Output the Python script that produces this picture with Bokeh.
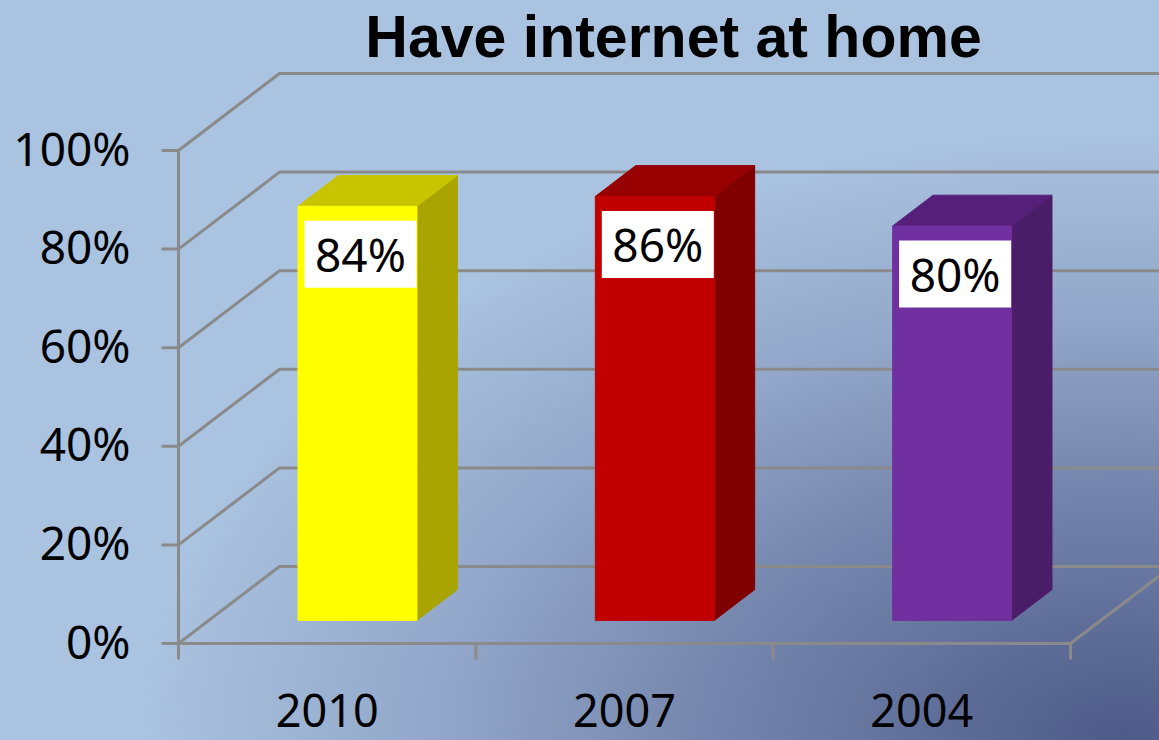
from bokeh.plotting import figure
from bokeh.models import Range1d, Label
from bokeh.core.properties import value
from bokeh.embed import file_html
from bokeh.resources import INLINE

# ---------------- data ----------------
categories = ["2010", "2007", "2004"]
values = [84, 86, 80]
value_labels = ["84%", "86%", "80%"]
y_ticks = [0, 20, 40, 60, 80, 100]
y_tick_labels = ["0%", "20%", "40%", "60%", "80%", "100%"]
front_colors = ["#ffff00", "#c00000", "#7030a0"]
side_colors = ["#a9a400", "#800000", "#4a1d68"]
top_colors = ["#c8c400", "#960000", "#56207a"]
title_text = "Have internet at home"

# ---------------- layout / styling constants ----------------
W, H = 1159, 740
X0, Y0 = 178, 643          # screen position of origin (front axis corner)
PX = 297.33                # pixels per category
PY = 4.93                  # pixels per percent
DX = 101 / PX              # full depth offset (x, data units)
DY = 77 / PY               # full depth offset (y, data units)
F0, F1 = 0.30, 0.70        # bar depth (front / back fraction)
HALF = 0.20                # half bar width (category units)
GRID = "#8a8a8a"
N = len(categories)

x_start = -X0 / PX
x_end = (W - X0) / PX
y_top = Y0 / PY
y_bot = (Y0 - H) / PY

p = figure(width=W, height=H, x_range=Range1d(x_start, x_end), y_range=Range1d(y_bot, y_top),
           x_axis_type=None, y_axis_type=None, min_border=0, toolbar_location=None,
           output_backend="svg")
p.outline_line_color = None
p.background_fill_alpha = 0
p.border_fill_alpha = 0
p.styles = {"background": "radial-gradient(ellipse 85% 82% at 97% 100%, #4e5a88 0%, #61719b 22%, "
                          "#7889b0 45%, #92a7c9 70%, #aac3e0 100%)"}

# ---------------- grid / walls ----------------
gx, gy = [], []
for t in y_ticks:
    gx.append([0, DX, N + DX])
    gy.append([t, t + DY, t + DY])
# floor front edge and right edge
gx.append([0, N]); gy.append([0, 0])
gx.append([N, N + DX]); gy.append([0, DY])
# left axis line
gx.append([0, 0]); gy.append([0, y_ticks[-1]])
# left ticks
for t in y_ticks:
    gx.append([-17 / PX, 0]); gy.append([t, t])
# bottom ticks (category boundaries)
for k in range(N + 1):
    gx.append([k, k]); gy.append([0, -16 / PY])
p.multi_line(gx, gy, line_color=GRID, line_width=3)

# ---------------- 3D bars ----------------
centers = [i + 0.5 for i in range(N)]
side_xs, side_ys, top_xs, top_ys = [], [], [], []
fl, fr, fb, ft = [], [], [], []
for c, v in zip(centers, values):
    l0, r0 = c - HALF + F0 * DX, c + HALF + F0 * DX
    l1, r1 = c - HALF + F1 * DX, c + HALF + F1 * DX
    b0, b1 = F0 * DY, F1 * DY
    side_xs.append([r0, r1, r1, r0]); side_ys.append([b0, b1, v + b1, v + b0])
    top_xs.append([l0, r0, r1, l1]); top_ys.append([v + b0, v + b0, v + b1, v + b1])
    fl.append(l0); fr.append(r0); fb.append(b0); ft.append(v + b0)

p.patches(side_xs, side_ys, fill_color=side_colors, line_color=side_colors, line_width=1)
p.patches(top_xs, top_ys, fill_color=top_colors, line_color=top_colors, line_width=1)
p.quad(left=fl, right=fr, bottom=fb, top=ft, fill_color=front_colors, line_color=front_colors, line_width=1)

# ---------------- value labels ----------------
lab_x = [(a + b) / 2 + 3 / PX for a, b in zip(fl, fr)]
lab_y = [t - 48 / PY for t in ft]
p.rect(x=lab_x, y=lab_y, width=112, height=67, width_units="screen", height_units="screen",
       fill_color="white", line_color=None)
p.text(x=lab_x, y=lab_y, text=value_labels, text_font=value("Noto Sans"), text_font_size="46px",
       text_align="center", text_baseline="middle", text_color="black")

# ---------------- axis labels ----------------
p.text(x=[-48 / PX] * len(y_ticks), y=[t + 3 / PY for t in y_ticks], text=y_tick_labels,
       text_font=value("Noto Sans"), text_font_size="46px", text_align="right",
       text_baseline="middle", text_color="black")
p.text(x=centers, y=[-67 / PY] * N, text=categories, text_font=value("Noto Sans"),
       text_font_size="45px", text_align="center", text_baseline="middle", text_color="black")

# ---------------- title ----------------
p.add_layout(Label(x=673, y=H - 36, x_units="screen", y_units="screen",
                   text=title_text, text_font="Liberation Sans", text_font_style="bold",
                   text_font_size="59px", text_align="center", text_baseline="middle",
                   text_color="black"))

open("out.html", "w").write(file_html(p, INLINE))
